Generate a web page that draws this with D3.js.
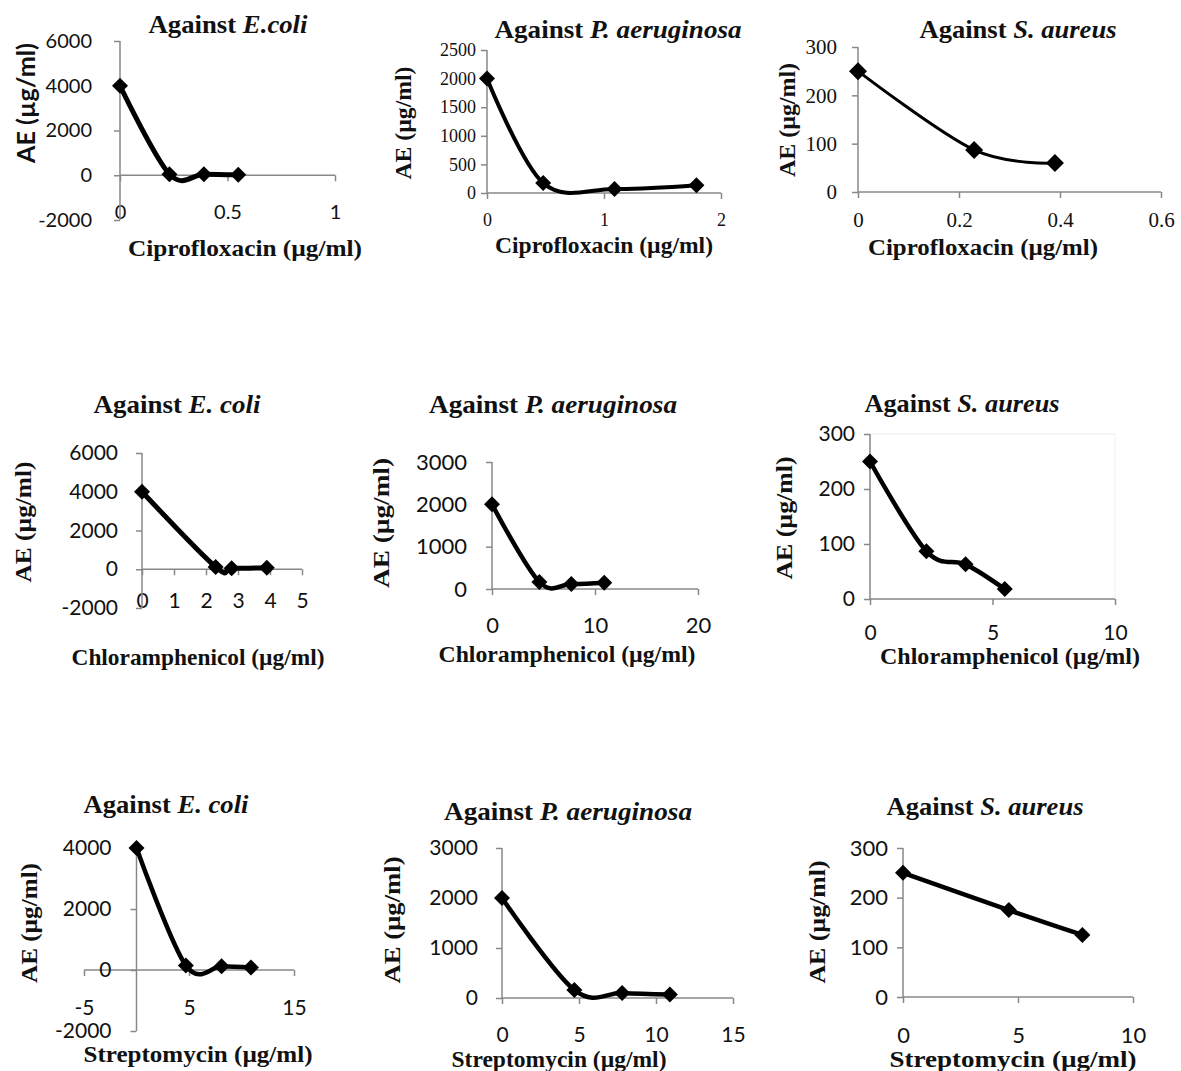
<!DOCTYPE html>
<html>
<head>
<meta charset="utf-8">
<script src="https://cdn.jsdelivr.net/npm/d3@7"></script>
<style>
  body { margin: 0; background: #fff; }
  svg { display: block; }
</style>
</head>
<body>
<svg id="chart" width="1181" height="1071"></svg>
<script>
// ---- data ----
const organisms = ["E.coli", "P. aeruginosa", "S. aureus"];
const drugs = ["Ciprofloxacin", "Chloramphenicol", "Streptomycin"];

const cipEcoliConc = [0, 0.23, 0.39, 0.55];
const cipEcoliAE   = [4000, 50, 50, 20];
const cipPaerConc  = [0, 0.48, 1.09, 1.79];
const cipPaerAE    = [2000, 175, 70, 135];
const cipSaurConc  = [0, 0.23, 0.39];
const cipSaurAE    = [250, 87, 60];

const chlEcoliConc = [0, 2.3, 2.8, 3.9];
const chlEcoliAE   = [4000, 120, 50, 80];
const chlPaerConc  = [0, 4.6, 7.7, 10.9];
const chlPaerAE    = [2000, 165, 120, 150];
const chlSaurConc  = [0, 2.3, 3.9, 5.5];
const chlSaurAE    = [250, 87, 63, 18];

const strEcoliConc = [0, 4.7, 8.1, 10.9];
const strEcoliAE   = [4000, 150, 120, 80];
const strPaerConc  = [0, 4.7, 7.8, 10.9];
const strPaerAE    = [2000, 160, 100, 70];
const strSaurConc  = [0, 4.6, 7.8];
const strSaurAE    = [250, 175, 125];

// axis ticks
const cipEcoliXTicks = [0, 0.5, 1],        cipEcoliYTicks = [-2000, 0, 2000, 4000, 6000];
const cipPaerXTicks  = [0, 1, 2],          cipPaerYTicks  = [0, 500, 1000, 1500, 2000, 2500];
const cipSaurXTicks  = [0, 0.2, 0.4, 0.6], cipSaurYTicks  = [0, 100, 200, 300];
const chlEcoliXTicks = [0, 1, 2, 3, 4, 5], chlEcoliYTicks = [-2000, 0, 2000, 4000, 6000];
const chlPaerXTicks  = [0, 10, 20],        chlPaerYTicks  = [0, 1000, 2000, 3000];
const chlSaurXTicks  = [0, 5, 10],         chlSaurYTicks  = [0, 100, 200, 300];
const strEcoliXTicks = [-5, 5, 15],        strEcoliYTicks = [-2000, 0, 2000, 4000];
const strPaerXTicks  = [0, 5, 10, 15],     strPaerYTicks  = [0, 1000, 2000, 3000];
const strSaurXTicks  = [0, 5, 10],         strSaurYTicks  = [0, 100, 200, 300];

const SERIF = "'Liberation Serif', 'Times New Roman', serif";
const SANS = "Lato, 'Open Sans', sans-serif";

// ---- panels: data + where each one sits on the page ----
const panels = [
  { org: "E.coli", drug: 0, xs: cipEcoliConc, ys: cipEcoliAE, xd: [0, 1], yd: [-2000, 6000],
    xt: cipEcoliXTicks, yt: cipEcoliYTicks,
    xr: [120, 335], yr: [220, 41], xlabY: 212, yGap: 28, tf: SANS, ts: 20, ylf: SANS, lw: 5, mk: 8,
    title: [228, 33, 159], xlab: [245, 256, 234], ylab: [35, 103, 120] },
  { org: "P. aeruginosa", drug: 0, xs: cipPaerConc, ys: cipPaerAE, xd: [0, 2], yd: [0, 2500],
    xt: cipPaerXTicks, yt: cipPaerYTicks,
    xr: [487, 721], yr: [193, 50], xlabY: 220, yGap: 11, tf: SERIF, ts: 18, ylf: SERIF, lw: 4, mk: 8,
    title: [618, 38, 247], xlab: [604, 253, 218], ylab: [411, 123, 113] },
  { org: "S. aureus", drug: 0, xs: cipSaurConc, ys: cipSaurAE, xd: [0, 0.6], yd: [0, 300],
    xt: cipSaurXTicks, yt: cipSaurYTicks,
    xr: [858, 1161], yr: [192, 47], xlabY: 220, yGap: 21, tf: SERIF, ts: 21, ylf: SERIF, lw: 3, mk: 9,
    title: [1018, 38, 197], xlab: [983, 255, 230], ylab: [795, 120, 114] },

  { org: "E. coli", drug: 1, xs: chlEcoliConc, ys: chlEcoliAE, xd: [0, 5], yd: [-2000, 6000],
    xt: chlEcoliXTicks, yt: chlEcoliYTicks,
    xr: [142, 302], yr: [608, 453], xlabY: 601, yGap: 24, tf: SANS, ts: 21, ylf: SERIF, lw: 5, mk: 8,
    title: [177, 413, 167], xlab: [198, 665, 253], ylab: [31, 522, 121] },
  { org: "P. aeruginosa", drug: 1, xs: chlPaerConc, ys: chlPaerAE, xd: [0, 20], yd: [0, 3000],
    xt: chlPaerXTicks, yt: chlPaerYTicks,
    xr: [492, 698], yr: [589, 462], xlabY: 625, yGap: 25, tf: SANS, ts: 22, ylf: SERIF, lw: 4.5, mk: 8,
    title: [553, 413, 248], xlab: [567, 662, 257], ylab: [389, 523, 130] },
  { org: "S. aureus", drug: 1, xs: chlSaurConc, ys: chlSaurAE, xd: [0, 10], yd: [0, 300],
    xt: chlSaurXTicks, yt: chlSaurYTicks,
    xr: [870, 1115], yr: [599, 434], xlabY: 633, yGap: 15, tf: SANS, ts: 21, ylf: SERIF, lw: 4.5, mk: 8,
    title: [962, 412, 195], xlab: [1010, 664, 260], ylab: [792, 518, 123], frame: true },

  { org: "E. coli", drug: 2, xs: strEcoliConc, ys: strEcoliAE, xd: [-5, 15], yd: [-2000, 4000],
    xt: strEcoliXTicks, yt: strEcoliYTicks,
    xr: [84, 294], yr: [1031, 848], xlabY: 1008, yGap: 25, tf: SANS, ts: 21, ylf: SERIF, lw: 4.5, mk: 8,
    title: [166, 813, 165], xlab: [198, 1062, 229], ylab: [37, 923, 120] },
  { org: "P. aeruginosa", drug: 2, xs: strPaerConc, ys: strPaerAE, xd: [0, 15], yd: [0, 3000],
    xt: strPaerXTicks, yt: strPaerYTicks,
    xr: [502, 733], yr: [998, 848], xlabY: 1035, yGap: 24, tf: SANS, ts: 21, ylf: SERIF, lw: 4.5, mk: 8,
    title: [568, 820, 248], xlab: [559, 1067, 215], ylab: [400, 920, 127] },
  { org: "S. aureus", drug: 2, xs: strSaurConc, ys: strSaurAE, xd: [0, 10], yd: [0, 300],
    xt: strSaurXTicks, yt: strSaurYTicks,
    xr: [903, 1133], yr: [997, 848], xlabY: 1035, yGap: 15, tf: SANS, ts: 22, ylf: SERIF, lw: 4.5, mk: 8,
    title: [985, 815, 197], xlab: [1013, 1067, 247], ylab: [825, 922, 123] }
];

const svg = d3.select("#chart");
const AXIS = "#888";
const fmt = d => String(d);   // plain hyphen for negatives, as in the figure

panels.forEach(p => {
  const x = d3.scaleLinear().domain(p.xd).range(p.xr);
  const y = d3.scaleLinear().domain(p.yd).range(p.yr);
  const g = svg.append("g");
  const x0 = x(0), y0 = y(0);

  if (p.frame) {
    g.append("rect")
      .attr("x", x(p.xd[0])).attr("y", y(p.yd[1]))
      .attr("width", x(p.xd[1]) - x(p.xd[0])).attr("height", y(p.yd[0]) - y(p.yd[1]))
      .attr("fill", "none").attr("stroke", "#eee").attr("stroke-width", 1);
  }

  // x axis sits on AE = 0
  const xAxis = g.append("g")
    .attr("transform", `translate(0,${y0})`)
    .call(d3.axisBottom(x).tickValues(p.xt).tickSize(6).tickSizeOuter(0).tickFormat(fmt));
  xAxis.selectAll(".tick text")
    .attr("y", p.xlabY - y0).attr("dy", "0.35em");

  // y axis sits on concentration = 0
  const yAxis = g.append("g")
    .attr("transform", `translate(${x0},0)`)
    .call(d3.axisLeft(y).tickValues(p.yt).tickSize(6).tickSizeOuter(0).tickPadding(p.yGap - 6).tickFormat(fmt));

  [xAxis, yAxis].forEach(a => {
    a.select(".domain").attr("stroke", AXIS).attr("stroke-width", 1.5);
    a.selectAll(".tick line").attr("stroke", AXIS).attr("stroke-width", 1.5);
    a.selectAll(".tick text")
      .attr("font-family", p.tf).attr("font-size", p.ts).attr("fill", "#111");
  });
  xAxis.select(".domain").attr("d", `M${x(p.xd[0])},0H${x(p.xd[1])}`);
  yAxis.select(".domain").attr("d", `M0,${y(p.yd[0])}V${y(p.yd[1])}`);

  // smoothed line, Excel style
  const pts = p.xs.map((v, i) => [v, p.ys[i]]);
  const line = d3.line()
    .x(d => x(d[0])).y(d => y(d[1]))
    .curve(d3.curveCardinal.tension(0));
  g.append("path")
    .attr("d", line(pts))
    .attr("fill", "none").attr("stroke", "#000")
    .attr("stroke-width", p.lw).attr("stroke-linejoin", "round");

  const r = p.mk;
  g.selectAll("path.mk").data(pts).join("path")
    .attr("class", "mk")
    .attr("transform", d => `translate(${x(d[0])},${y(d[1])})`)
    .attr("d", `M0,${-r}L${r},0L0,${r}L${-r},0Z`)
    .attr("fill", "#000");

  // title
  const t = g.append("text")
    .attr("x", p.title[0]).attr("y", p.title[1])
    .attr("text-anchor", "middle")
    .attr("font-family", SERIF).attr("font-weight", "bold").attr("font-size", 25)
    .attr("textLength", p.title[2]).attr("lengthAdjust", "spacingAndGlyphs")
    .attr("fill", "#111");
  t.append("tspan").text("Against ");
  t.append("tspan").attr("font-style", "italic").text(p.org);

  // x axis title
  g.append("text")
    .attr("x", p.xlab[0]).attr("y", p.xlab[1])
    .attr("text-anchor", "middle")
    .attr("font-family", SERIF).attr("font-weight", "bold").attr("font-size", 23)
    .attr("textLength", p.xlab[2]).attr("lengthAdjust", "spacingAndGlyphs")
    .attr("fill", "#111")
    .text(drugs[p.drug] + " (µg/ml)");

  // y axis title
  g.append("text")
    .attr("transform", `translate(${p.ylab[0]},${p.ylab[1]}) rotate(-90)`)
    .attr("text-anchor", "middle")
    .attr("font-family", p.ylf).attr("font-weight", "bold").attr("font-size", 24)
    .attr("textLength", p.ylab[2]).attr("lengthAdjust", "spacingAndGlyphs")
    .attr("fill", "#111")
    .text("AE (µg/ml)");
});
</script>
</body>
</html>
